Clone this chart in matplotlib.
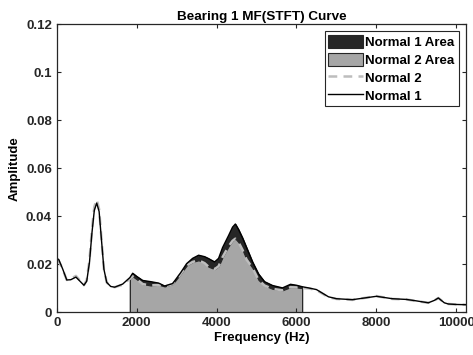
import numpy as np
import matplotlib
matplotlib.use("Agg")
import matplotlib.pyplot as plt

# frequency grid (Hz) shared by both curves
freq = [0, 50, 150, 250, 350, 480, 580, 680, 750, 820, 880, 940, 1000, 1060, 1120,
        1180, 1250, 1350, 1450, 1650, 1830, 1900, 2000, 2150, 2350, 2550, 2700, 2900,
        3100, 3250, 3400, 3550, 3700, 3800, 3950, 4050, 4150, 4300, 4400, 4470, 4550,
        4650, 4750, 4900, 5050, 5200, 5400, 5650, 5850, 6000, 6140, 6300, 6500, 6650,
        6800, 7000, 7400, 7700, 8000, 8400, 8750, 9000, 9300, 9450, 9550, 9700, 9800,
        10000, 10240]
normal1 = [0.0225, 0.0220, 0.0180, 0.0135, 0.0136, 0.0147, 0.0130, 0.0113, 0.0130, 0.0210,
           0.0330, 0.0425, 0.0455, 0.0420, 0.0300, 0.0180, 0.0125, 0.0108, 0.0105, 0.0118,
           0.0145, 0.0163, 0.0150, 0.0133, 0.0128, 0.0122, 0.0110, 0.0120, 0.0165, 0.0203,
           0.0225, 0.0238, 0.0232, 0.0224, 0.0210, 0.0225, 0.0270, 0.0320, 0.0355, 0.0368,
           0.0345, 0.0310, 0.0270, 0.0210, 0.0160, 0.0128, 0.0112, 0.0102, 0.0117, 0.0113,
           0.0107, 0.0102, 0.0095, 0.0080, 0.0065, 0.0057, 0.0053, 0.0060, 0.0067, 0.0057,
           0.0054, 0.0048, 0.0040, 0.0050, 0.0060, 0.0040, 0.0035, 0.0033, 0.0032]
normal2 = [0.0220, 0.0215, 0.0178, 0.0135, 0.0140, 0.0152, 0.0133, 0.0113, 0.0135, 0.0220,
           0.0345, 0.0440, 0.0470, 0.0430, 0.0305, 0.0180, 0.0125, 0.0108, 0.0105, 0.0115,
           0.0140, 0.0150, 0.0138, 0.0118, 0.0112, 0.0115, 0.0108, 0.0118, 0.0160, 0.0195,
           0.0210, 0.0217, 0.0205, 0.0190, 0.0180, 0.0192, 0.0230, 0.0275, 0.0298, 0.0307,
           0.0292, 0.0260, 0.0220, 0.0185, 0.0135, 0.0112, 0.0098, 0.0092, 0.0105, 0.0104,
           0.0101, 0.0100, 0.0093, 0.0078, 0.0063, 0.0056, 0.0052, 0.0060, 0.0068, 0.0056,
           0.0054, 0.0047, 0.0040, 0.0049, 0.0060, 0.0040, 0.0035, 0.0033, 0.0032]
band = (1830, 6140)

plt.rcParams.update({
    "font.family": ["Liberation Sans", "DejaVu Sans"], "font.weight": "bold",
    "font.size": 9.5, "axes.linewidth": 0.9, "axes.edgecolor": "#262626",
    "xtick.color": "#262626", "ytick.color": "#262626",
    "xtick.direction": "in", "ytick.direction": "in",
    "xtick.top": True, "ytick.right": True,
    "xtick.major.size": 3, "ytick.major.size": 3,
})

f = np.array(freq); a1 = np.array(normal1); a2 = np.array(normal2)
sel = (f >= band[0]) & (f <= band[1])

fig = plt.figure(figsize=(4.73, 3.55), dpi=100)
ax = fig.add_axes([0.12, 0.12, 0.865, 0.812])
ax.fill_between(f, 0, a1, where=sel, color="#262626", lw=0, label="Normal 1 Area")
ax.fill_between(f, 0, a2, where=sel, color="#A6A6A6", lw=0, label="Normal 2 Area")
ax.plot(f, a2, color="#BDBDBD", lw=1.8, ls=(0, (3.5, 2.5)), label="Normal 2")
ax.plot(f, a1, color="black", lw=1.0, label="Normal 1")

ax.set_xlim(0, 10240); ax.set_ylim(0, 0.12)
ax.set_xticks([0, 2000, 4000, 6000, 8000, 10000])
ax.set_yticks([0, 0.02, 0.04, 0.06, 0.08, 0.1, 0.12], ["0", "0.02", "0.04", "0.06", "0.08", "0.1", "0.12"])
ax.set_xlabel("Frequency (Hz)", fontweight="bold", labelpad=2)
ax.set_ylabel("Amplitude", fontweight="bold", labelpad=4)
ax.set_title("Bearing 1 MF(STFT) Curve", fontweight="bold", fontsize=9.7, pad=3)

h, l = ax.get_legend_handles_labels()
for p in h[:2]:
    p.set_edgecolor("#262626"); p.set_linewidth(0.8)
leg = ax.legend(h, l, loc="upper right", fancybox=False, edgecolor="#262626",
                handlelength=2.6, handleheight=1.1, borderpad=0.3, labelspacing=0.3,
                handletextpad=0.2, borderaxespad=0.55, framealpha=1)
leg.get_frame().set_linewidth(0.8)

fig.savefig("out.png", dpi=100)
